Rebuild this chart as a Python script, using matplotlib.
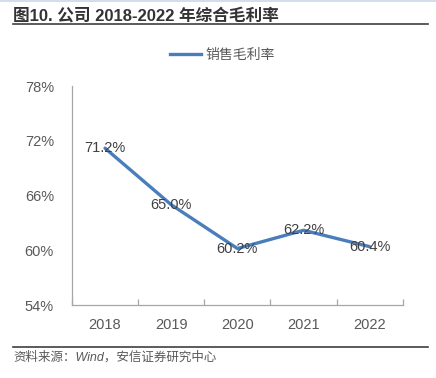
import matplotlib
matplotlib.use("Agg")
import matplotlib.pyplot as plt
from matplotlib.lines import Line2D

plt.rcParams['font.family'] = ['Liberation Sans', 'Noto Sans CJK SC', 'DejaVu Sans']

# 数据
years = ['2018', '2019', '2020', '2021', '2022']
margin = [71.2, 65.0, 60.2, 62.2, 60.4]
yticks = [54, 60, 66, 72, 78]
series_name = '销售毛利率'
title = '图10. 公司 2018-2022 年综合毛利率'
source = '资料来源：Wind，安信证券研究中心'

line_color = '#4a7ebb'
text_color = '#404040'
axis_color = '#a6a6a6'

fig = plt.figure(figsize=(4.36, 3.78), dpi=100)
ax = fig.add_axes([0.165, 0.193, 0.759, 0.579])

xs = list(range(len(years)))
ax.plot(xs, margin, color=line_color, lw=2.4, label=series_name,
        solid_capstyle='round', zorder=2)
for x, v in zip(xs, margin):
    ax.text(x, v, f'{v:.1f}%', ha='center', va='center', fontsize=10.5,
            color=text_color, zorder=3)

ax.set_xlim(-0.5, len(years) - 0.5)
ax.set_ylim(54, 78)
ax.set_xticks(xs)
ax.set_xticklabels(years)
ax.set_xticks([i - 0.5 for i in range(len(years) + 1)], minor=True)
ax.set_yticks(yticks)
ax.set_yticklabels([f'{t}%' for t in yticks])

ax.tick_params(axis='x', which='major', length=0, pad=9, labelsize=10.5,
               labelcolor='#595959')
ax.tick_params(axis='x', which='minor', direction='in', length=4,
               color=axis_color, width=0.9)
ax.tick_params(axis='y', length=0, pad=13, labelsize=10.5, labelcolor='#595959')

for s in ['top', 'right']:
    ax.spines[s].set_visible(False)
for s in ['left', 'bottom']:
    ax.spines[s].set_color(axis_color)
    ax.spines[s].set_linewidth(0.9)

# 图例
handle = Line2D([0], [0], color=line_color, lw=2.4)
fig.legend([handle], [series_name], loc='center', bbox_to_anchor=(0.51, 0.855),
           frameon=False, fontsize=10, handlelength=2.2, handletextpad=0.3,
           labelcolor='#595959')

# 标题和来源
fig.text(0.03, 0.958, title, fontsize=12, fontweight='bold',
         color='#333333', va='center', ha='left')
fig.add_artist(Line2D([0.03, 0.982], [0.936, 0.936], color='#404040', lw=1.2,
                      transform=fig.transFigure))
fig.add_artist(Line2D([0, 1], [0.998, 0.998], color='#c9d7ea', lw=1.2,
                      transform=fig.transFigure))
fig.add_artist(Line2D([0.03, 0.982], [0.082, 0.082], color='#404040', lw=1.2,
                      transform=fig.transFigure))
fig.text(0.03, 0.055, source, fontsize=9, color='#595959', style='italic',
         va='center', ha='left')

fig.savefig('out.png', dpi=100)
